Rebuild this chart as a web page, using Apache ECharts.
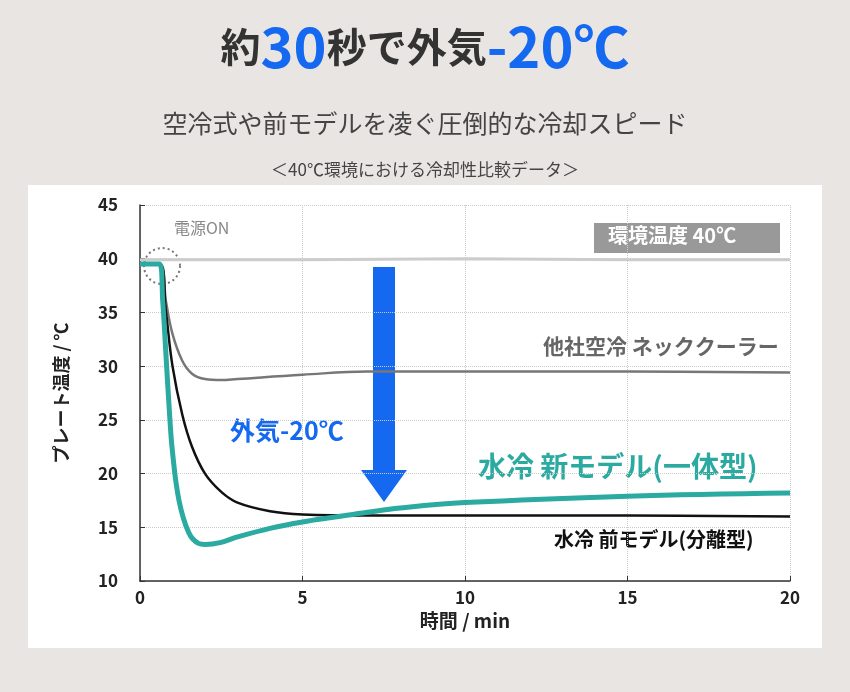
<!DOCTYPE html>
<html>
<head>
<meta charset="utf-8">
<script src="https://cdn.jsdelivr.net/npm/echarts@6/dist/echarts.min.js"></script>
<style>
  html, body { margin: 0; padding: 0; background: #e9e5e3; }
  #chart { width: 850px; height: 692px; }
</style>
</head>
<body>
<div id="chart"></div>
<script>
// 各カーブのデータ [時間(min), 温度(℃)]
const ambientData = [[0, 39.9], [5, 39.9], [10, 40.0], [15, 39.9], [20, 39.9]];
const airCoolData = [[0, 39.5], [0.6, 39.5], [0.8, 36], [1.0, 33], [1.3, 30.5], [1.6, 29.3], [2, 28.8], [2.5, 28.7], [3, 28.8], [5, 29.2], [7, 29.5], [10, 29.5], [15, 29.5], [20, 29.4]];
const oldModelData = [[0, 39.5], [0.6, 39.5], [0.8, 35], [1.0, 30], [1.3, 25.5], [1.6, 22.5], [2, 20], [2.5, 18.3], [3, 17.3], [4, 16.5], [5, 16.2], [7, 16.1], [10, 16.1], [15, 16.1], [20, 16.0]];
const newModelData = [[0, 39.5], [0.6, 39.5], [0.7, 36], [0.8, 31], [0.9, 26], [1.0, 22], [1.2, 17.5], [1.5, 14.5], [1.8, 13.5], [2, 13.4], [2.5, 13.6], [3, 14.1], [4, 14.9], [5, 15.5], [6, 15.95], [7, 16.4], [8, 16.8], [10, 17.3], [15, 17.9], [20, 18.2]];
const xTicks = [0, 5, 10, 15, 20];

const chart = echarts.init(document.getElementById('chart'));
const font = '"Noto Sans CJK JP", sans-serif';
const blue = '#1469f0';

chart.setOption({
    backgroundColor: '#e9e5e3',
    textStyle: { fontFamily: font },
    animation: false,
    title: [
        {
            text: '{b|約}{a|30}{b|秒で外気}{a|-20℃}',
            left: 'center', top: 14,
            textStyle: {
                rich: {
                    a: { fontSize: 56, fontWeight: 'bold', color: blue, fontFamily: font },
                    b: { fontSize: 40, fontWeight: 'bold', color: '#333', fontFamily: font }
                }
            }
        },
        { text: '空冷式や前モデルを凌ぐ圧倒的な冷却スピード', left: 'center', top: 106, textStyle: { fontSize: 25, fontWeight: 'normal', color: '#444', fontFamily: font } },
        { text: '＜40℃環境における冷却性比較データ＞', left: 'center', top: 156, textStyle: { fontSize: 17, fontWeight: 'normal', color: '#444', fontFamily: font } }
    ],
    graphic: [
        { type: 'rect', z: -10, shape: { x: 28, y: 185, width: 794, height: 463 }, style: { fill: '#fff' } },
        { type: 'rect', shape: { x: 594, y: 223, width: 186, height: 30 }, style: { fill: '#999' } },
        { type: 'text', left: 608, top: 225, style: { text: '環境温度 40℃', fill: '#fff', font: 'bold 20px ' + font } },
        { type: 'text', left: 174, top: 220, style: { text: '電源ON', fill: '#888', font: '16px ' + font } },
        { type: 'circle', shape: { cx: 162, cy: 266, r: 18 }, style: { fill: 'none', stroke: '#777', lineWidth: 2, lineDash: [2, 3] } },
        { type: 'polygon', shape: { points: [[373, 267], [395, 267], [395, 470], [407, 470], [384, 502], [361, 470], [373, 470]] }, style: { fill: blue } },
        { type: 'text', left: 230, top: 418, style: { text: '外気-20℃', fill: blue, font: 'bold 25px ' + font } },
        { type: 'text', left: 543, top: 336, style: { text: '他社空冷 ネッククーラー', fill: '#666', font: 'bold 21px ' + font } },
        { type: 'text', left: 478, top: 452, style: { text: '水冷 新モデル(一体型)', fill: '#2aaaa0', font: 'bold 28px ' + font } },
        { type: 'text', left: 554, top: 529, style: { text: '水冷 前モデル(分離型)', fill: '#111', font: 'bold 20px ' + font } }
    ],
    grid: { left: 140, right: 60, top: 205, bottom: 111 },
    xAxis: {
        type: 'value', min: 0, max: 20, interval: 5,
        name: '時間 / min', nameLocation: 'middle', nameGap: 28,
        nameTextStyle: { fontSize: 19, fontWeight: 'bold', color: '#222' },
        axisLine: { lineStyle: { color: '#333', width: 1.5 } },
        axisTick: { show: true, inside: true, lineStyle: { color: '#333' } },
        axisLabel: { fontSize: 17, fontWeight: 'bold', color: '#222', customValues: xTicks },
        splitLine: { show: true, lineStyle: { color: '#ccc', type: 'dotted' } }
    },
    yAxis: {
        type: 'value', min: 10, max: 45, interval: 5,
        name: 'プレート温度 / ℃', nameLocation: 'middle', nameGap: 70,
        nameTextStyle: { fontSize: 18, fontWeight: 'bold', color: '#222' },
        axisLine: { show: true, lineStyle: { color: '#333', width: 1.5 } },
        axisTick: { show: true, inside: true, lineStyle: { color: '#333' } },
        axisLabel: { fontSize: 17, fontWeight: 'bold', color: '#222', margin: 22 },
        splitLine: { show: true, lineStyle: { color: '#ccc', type: 'dotted' } }
    },
    series: [
        { name: '環境温度', type: 'line', data: ambientData, showSymbol: false, lineStyle: { color: '#ccc', width: 3 } },
        { name: '他社空冷', type: 'line', data: airCoolData, smooth: 0.4, showSymbol: false, lineStyle: { color: '#777', width: 2.5 } },
        { name: '前モデル', type: 'line', data: oldModelData, smooth: 0.4, showSymbol: false, lineStyle: { color: '#111', width: 2.5 } },
        { name: '新モデル', type: 'line', data: newModelData, smooth: 0.4, showSymbol: false, lineStyle: { color: '#2aaaa0', width: 5 } }
    ]
});
</script>
</body>
</html>
